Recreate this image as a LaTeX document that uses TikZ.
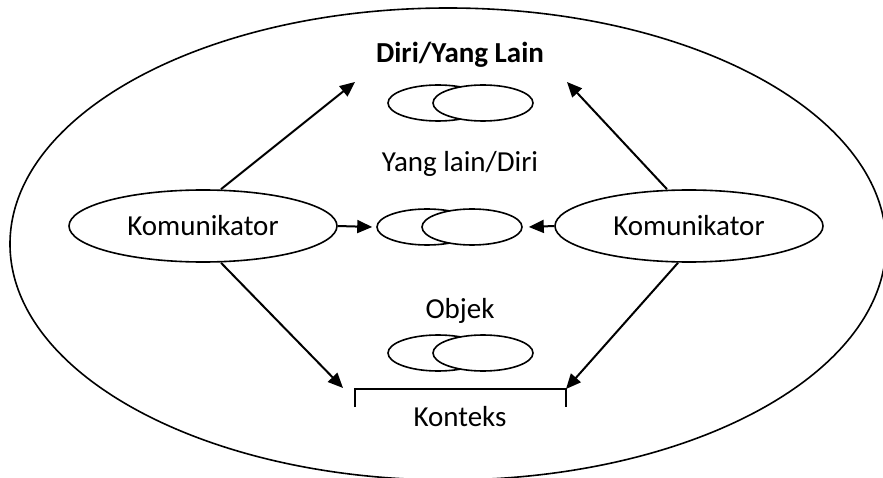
\documentclass[tikz,border=0pt]{standalone}
\usepackage{fontspec}
\setmainfont{Carlito}
\usetikzlibrary{shapes.geometric,arrows.meta}
\begin{document}
\begin{tikzpicture}[x=1pt,y=-1pt, line width=1.6pt,
  komu/.style={draw, ellipse, minimum width=268pt, minimum height=72pt, inner sep=0pt, font=\fontsize{29}{35}\selectfont},
  venn/.style={draw, ellipse, fill=white, minimum width=100pt, minimum height=36pt, inner sep=0pt},
  lbl/.style={font=\fontsize{29}{35}\selectfont, inner sep=0pt, anchor=base},
  arr/.style={-{Triangle[length=15pt,width=13pt]}, line width=2pt}]
\useasboundingbox (0,0) rectangle (883,478);
% outer context ellipse
\node[draw, ellipse, minimum width=876pt, minimum height=472pt, inner sep=0pt] (outer) at (448,244) {};
% communicators
\node[komu] (L) at (203,226) {Komunikator};
\node[komu] (R) at (689,226) {Komunikator};
% labels
\node[lbl, font=\fontsize{29}{35}\selectfont\bfseries] (t1) at (460,63) {Diri/Yang Lain};
\node[lbl] (t2) at (460,172) {Yang lain/Diri};
\node[lbl] (t3) at (460,318) {Objek};
\node[lbl] (t4) at (460,426) {Konteks};
% venn pairs
\node[venn] (a1) at (438,103) {};
\node[venn] (a2) at (483,103) {};
\node[venn] (b1) at (427,227) {};
\node[venn] (b2) at (472,227) {};
\node[venn] (c1) at (438,353) {};
\node[venn] (c2) at (483,353) {};
% context bracket
\coordinate (k1) at (355,389);
\coordinate (k2) at (566,389);
\draw (355,407) -- (k1) -- (k2) -- (566,407);
% arrow targets
\coordinate (p1) at (355,82);
\coordinate (p2) at (567,82);
\coordinate (p3) at (343,388);
\coordinate (p4) at (b1.west);
\coordinate (p5) at (b2.east);
% arrows
\draw[arr] ([xshift=18pt]L.north) -- (p1);
\draw[arr] ([xshift=18pt]L.south) -- (p3);
\draw[arr] (L.east) -- ([xshift=-4pt]p4);
\draw[arr] ([xshift=-22pt]R.north) -- (p2);
\draw[arr] ([xshift=-11pt]R.south) -- (k2);
\draw[arr] (R.west) -- ([xshift=6pt]p5);
\end{tikzpicture}
\end{document}
